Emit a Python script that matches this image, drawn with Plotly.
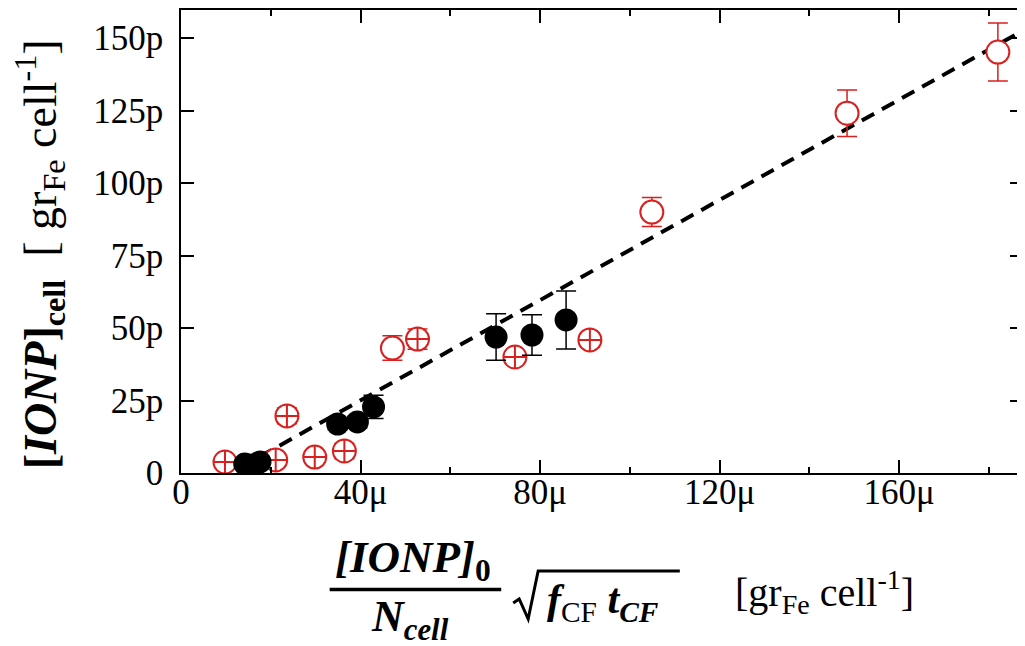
import plotly.graph_objects as go
import numpy as np

# ---- data (x in µgr_Fe/cell, y in pgr_Fe/cell) ----
red_x = [9.8, 21.1, 23.6, 29.8, 36.4, 47.1, 52.7, 74.4, 91.1, 104.9, 148.4, 182.0]
red_y = [3.8, 4.5, 19.7, 5.5, 7.6, 43.1, 46.2, 40.0, 45.9, 90.0, 124.1, 145.2]
red_err = [1.0, 1.0, 2.7, 1.0, 2.7, 4.2, 3.5, 1.5, 2.5, 5.0, 8.0, 10.0]

black_x = [14.2, 15.8, 17.6, 34.9, 39.3, 42.9, 70.2, 78.2, 85.8]
black_y = [3.1, 2.8, 3.8, 16.9, 17.6, 22.8, 46.9, 47.6, 52.8]
black_err = [1.0, 1.0, 1.0, 2.0, 2.0, 4.0, 8.0, 7.0, 10.0]

fit_x = [13.0, 190.0]
fit_y = [1.7, 154.7]

MU, PICO = 1e-6, 1e-12
red_symbols = ["circle-cross", "circle-cross", "circle-cross", "circle-cross", "circle-cross",
               "circle", "circle-cross", "circle-cross", "circle-cross", "circle", "circle", "circle"]

RED = "#d9201f"
FONT = "Liberation Serif"

fig = go.Figure()
fig.add_trace(go.Scatter(
    x=np.array(fit_x) * MU, y=np.array(fit_y) * PICO, mode="lines",
    line=dict(color="black", width=4, dash="14px,9px"), showlegend=False, hoverinfo="skip"))
fig.add_trace(go.Scatter(
    x=np.array(red_x) * MU, y=np.array(red_y) * PICO, mode="markers",
    marker=dict(symbol=red_symbols, size=23, color="white", line=dict(color=RED, width=2)),
    error_y=dict(type="data", array=np.array(red_err) * PICO, color=RED, thickness=1.5, width=10),
    showlegend=False))
fig.add_trace(go.Scatter(
    x=np.array(black_x) * MU, y=np.array(black_y) * PICO, mode="markers",
    marker=dict(symbol="circle", size=23, color="black"),
    error_y=dict(type="data", array=np.array(black_err) * PICO, color="black", thickness=1.5, width=10),
    showlegend=False))

axis_common = dict(
    showline=True, linecolor="black", linewidth=1.5, mirror="ticks",
    ticks="inside", ticklen=13, tickwidth=1.5, tickcolor="black",
    exponentformat="SI", showgrid=False, zeroline=False,
    tickfont=dict(family=FONT, size=35, color="black"),
)
fig.update_xaxes(range=[0, 187.6 * MU], tick0=0, dtick=40 * MU,
                 minor=dict(ticks="inside", ticklen=6, dtick=20 * MU, tickcolor="black", tickwidth=1.5, showgrid=False),
                 ticklabelstandoff=-13, **axis_common)
fig.update_yaxes(range=[0, 159.7 * PICO], tick0=0, dtick=25 * PICO,
                 minor=dict(ticks="inside", ticklen=7, dtick=5 * PICO, tickcolor="black", tickwidth=1.5, showgrid=False),
                 ticklabelstandoff=9, **axis_common)

# page pixel geometry (the page body adds an 8px margin)
OFF = 8
W, H = 1025 - OFF, 646 - OFF
L, R, T, B = 181, 1025, 10, 473
def px(xp):
    return (xp - L) / (R - L)
def py(yp):
    return (B - yp) / (B - T)

ann = []
ann.append(dict(x=px(39), y=py(254), xref="paper", yref="paper", textangle=-90,
                text="<b>[<i>IONP</i>]<sub>cell</sub></b>  [ gr<sub>Fe</sub> cell<sup>-1</sup>]",
                font=dict(family=FONT, size=46, color="black"), showarrow=False,
                xanchor="center", yanchor="middle"))
ann.append(dict(x=px(414), y=py(560), xref="paper", yref="paper",
                text="<b><i>[IONP]</i><sub>0</sub></b>",
                font=dict(family=FONT, size=45, color="black"), showarrow=False,
                xanchor="center", yanchor="middle"))
ann.append(dict(x=px(411), y=py(619), xref="paper", yref="paper",
                text="<b><i>N<sub>cell</sub></i></b>",
                font=dict(family=FONT, size=44, color="black"), showarrow=False,
                xanchor="center", yanchor="middle"))
ann.append(dict(x=px(604), y=py(602), xref="paper", yref="paper",
                text="<b><i>f</i></b><sub>CF</sub> <b><i>t<sub>CF</sub></i></b>",
                font=dict(family=FONT, size=42, color="black"), showarrow=False,
                xanchor="center", yanchor="middle"))
ann.append(dict(x=px(826), y=py(592), xref="paper", yref="paper",
                text="[gr<sub>Fe</sub> cell<sup>-1</sup>]",
                font=dict(family=FONT, size=40, color="black"), showarrow=False,
                xanchor="center", yanchor="middle"))

shapes = []
shapes.append(dict(type="line", xref="paper", yref="paper",
                   x0=px(330), x1=px(502), y0=py(589.5), y1=py(589.5),
                   line=dict(color="black", width=3.5)))
pts = [(514, 603), (520, 599), (529, 619), (539, 571), (681, 571)]
path = "M " + " L ".join(f"{px(a):.5f},{py(b):.5f}" for a, b in pts)
shapes.append(dict(type="path", xref="paper", yref="paper", path=path,
                   line=dict(color="black", width=3)))

fig.update_layout(
    width=W, height=H,
    margin=dict(l=L - OFF, r=1025 - R, t=T - OFF, b=646 - B),
    paper_bgcolor="white", plot_bgcolor="white",
    annotations=ann, shapes=shapes,
)
fig.write_html("out.html")
